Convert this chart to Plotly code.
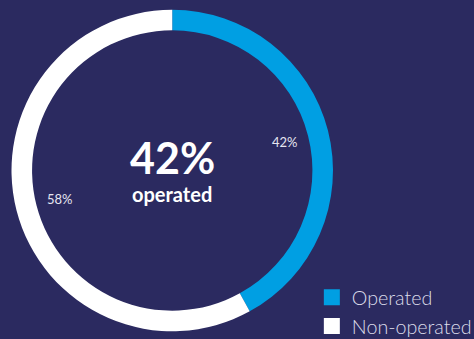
import math
import plotly.graph_objects as go

labels = ["Operated", "Non-operated"]
values = [42, 58]
colors = ["#009fe3", "#ffffff"]
bg = "#2b2a60"

W, H = 474, 339
left_px, right_px, top_px, bottom_px = 11.5, 333, 8, 333

fig = go.Figure()
fig.add_trace(go.Pie(
    labels=labels, values=values, sort=False, direction="clockwise", rotation=0,
    hole=0.872, marker=dict(colors=colors, line=dict(width=0)),
    textinfo="none", hoverinfo="label+percent", showlegend=False,
    domain=dict(x=[left_px/W, right_px/W], y=[1-bottom_px/H, 1-top_px/H]),
))

# legend entries with larger square swatches
for lab, col in zip(labels, colors):
    fig.add_trace(go.Scatter(x=[None], y=[None], mode="markers", name=lab,
                             marker=dict(symbol="square", size=16, color=col, line=dict(width=0)),
                             hoverinfo="skip"))

cx_px, cy_px = (left_px+right_px)/2, (top_px+bottom_px)/2
r_px = 116
total = sum(values)
cum = 0
for v in values:
    mid = (cum + v/2)/total*2*math.pi
    cum += v
    x_px = cx_px + r_px*math.sin(mid)
    y_px = cy_px - r_px*math.cos(mid)
    fig.add_annotation(x=x_px/W, y=1-y_px/H, xref="paper", yref="paper", showarrow=False,
                       xanchor="center", yanchor="middle",
                       text=f"{round(v/total*100)}%", font=dict(family="Lato", size=13, color="#e6e6f0"))

fig.add_annotation(x=cx_px/W, y=1-157/H, xref="paper", yref="paper", showarrow=False,
                   xanchor="center", yanchor="middle", borderpad=0,
                   text=f"{values[0]}%", font=dict(family="Lato", size=43, color="#ffffff", weight="bold"))
fig.add_annotation(x=cx_px/W, y=1-194/H, xref="paper", yref="paper", showarrow=False,
                   xanchor="center", yanchor="middle", borderpad=0,
                   text="operated", font=dict(family="Lato", size=20, color="#ffffff", weight="bold"))

fig.update_layout(
    width=W, height=H, margin=dict(l=0, r=0, t=0, b=0, autoexpand=False),
    paper_bgcolor=bg, plot_bgcolor=bg,
    xaxis=dict(visible=False), yaxis=dict(visible=False),
    legend=dict(x=1.006, xanchor="right", y=1-278/H, yanchor="top",
                font=dict(family="Lato Light, Lato", size=19.7, color="#dcdcea", weight=300),
                bgcolor="rgba(0,0,0,0)", tracegroupgap=0, itemwidth=30),
    showlegend=True,
)
fig.write_html("out.html")
